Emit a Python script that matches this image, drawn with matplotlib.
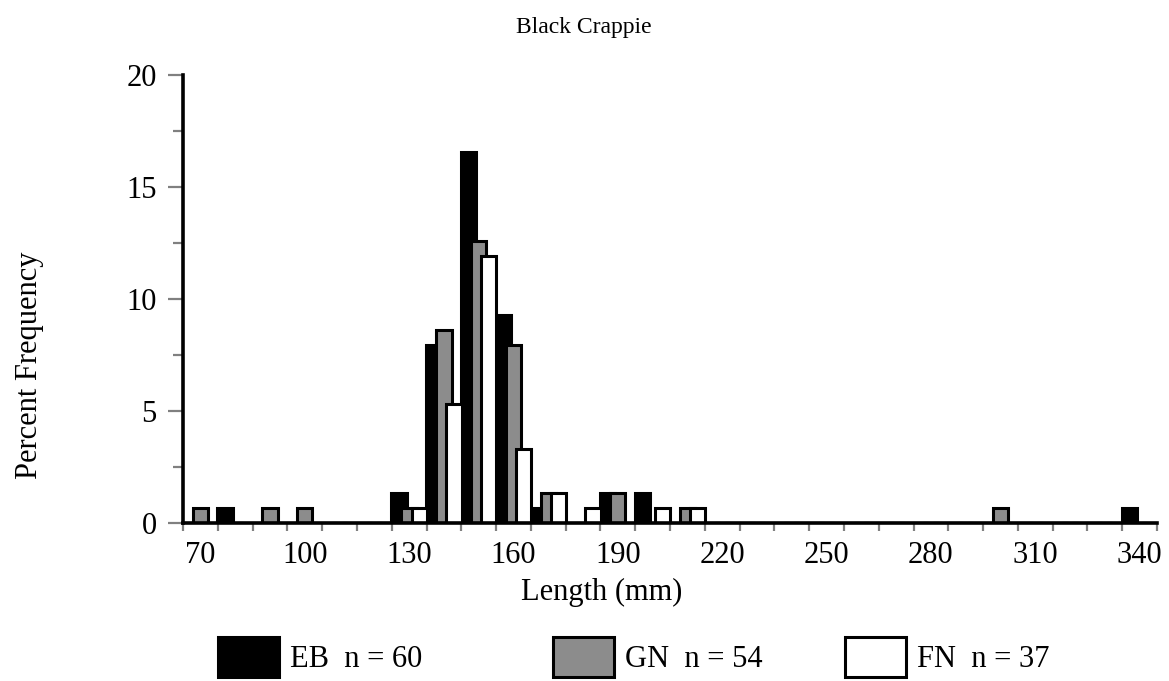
import numpy as np
import matplotlib
matplotlib.use("Agg")
import matplotlib.pyplot as plt
from matplotlib.patches import Patch

plt.rcParams['font.family'] = ['Liberation Serif', 'DejaVu Serif']

# ---- data (percent frequency by 10 mm length class) ----
lengths = [70, 80, 90, 100, 110, 120, 130, 140, 150, 160, 170, 180, 190, 200,
           210, 220, 230, 240, 250, 260, 270, 280, 290, 300, 310, 320, 330, 340]
eb = [0, 0.66, 0, 0, 0, 0, 1.32, 7.95, 16.56, 9.27, 0.66, 0, 1.32, 1.32,
      0, 0, 0, 0, 0, 0, 0, 0, 0, 0, 0, 0, 0, 0.66]
gn = [0.66, 0, 0.66, 0.66, 0, 0, 0.66, 8.61, 12.58, 7.95, 1.32, 0, 1.32, 0,
      0.66, 0, 0, 0, 0, 0, 0, 0, 0, 0.66, 0, 0, 0, 0]
fn = [0, 0, 0, 0, 0, 0, 0.66, 5.30, 11.92, 3.31, 1.32, 0.66, 0, 0.66,
      0.66, 0, 0, 0, 0, 0, 0, 0, 0, 0, 0, 0, 0, 0]
series_labels = ['EB  n = 60', 'GN  n = 54', 'FN  n = 37']
series_colors = ['black', '#8c8c8c', 'white']

W, H = 1169, 681
fig = plt.figure(figsize=(W / 100, H / 100), dpi=100)
ax = fig.add_axes([183 / W, 1 - 522.7 / H, (1157 - 183) / W, (522.7 - 75) / H])

x = np.arange(len(lengths))
bw = 0.44
# drawn in order so later series sit on top of earlier ones
for i, (vals, off) in enumerate(zip([eb, gn, fn], [-0.29, 0, 0.29])):
    ax.bar(x + off, vals, bw, color=series_colors[i], edgecolor='black',
           linewidth=2.2, zorder=2 + i)

ax.set_xlim(-0.5, len(lengths) - 0.5)
ax.set_ylim(0, 20)

# x axis: labels every 3rd class, tick marks on class boundaries
ax.set_xticks(x[::3])
ax.set_xticklabels([str(v) for v in lengths[::3]])
ax.set_xticks(np.arange(-0.5, len(lengths)), minor=True)
ax.tick_params(axis='x', which='major', length=0, labelsize=22, pad=13)
ax.tick_params(axis='x', which='minor', length=6, width=1.6, color='#808080',
               direction='out')

# y axis
ax.set_yticks([0, 5, 10, 15, 20])
ax.set_yticks(np.arange(2.5, 20, 5), minor=True)
ax.tick_params(axis='y', which='major', length=11, width=1.6, color='#808080',
               labelsize=22, pad=8)
ax.tick_params(axis='y', which='minor', length=7.5, width=1.6, color='#808080')

for s in ['top', 'right']:
    ax.spines[s].set_visible(False)
for s in ['left', 'bottom']:
    ax.spines[s].set_linewidth(2.6)
    ax.spines[s].set_zorder(6)

fig.text(602 / W, 1 - 592 / H, 'Length (mm)', ha='center', va='center',
         fontsize=22)
fig.text(30 / W, 1 - 365 / H, 'Percent Frequency', ha='center', va='center',
         rotation=90, fontsize=22)
fig.text(584 / W, 1 - 28 / H, 'Black Crappie', ha='center', va='center',
         fontsize=17)

# legend: one entry per series, placed like the original
leg_x = [218, 553, 845]
for lab, col, lx in zip(series_labels, series_colors, leg_x):
    h = Patch(facecolor=col, edgecolor='black', linewidth=2.2)
    fig.legend([h], [lab], loc='center left',
               bbox_to_anchor=(lx / W, 1 - 657 / H), frameon=False,
               fontsize=22, handlelength=2.0, handleheight=1.6,
               handletextpad=0.35, borderpad=0, borderaxespad=0)

fig.savefig('out.png', dpi=100)
